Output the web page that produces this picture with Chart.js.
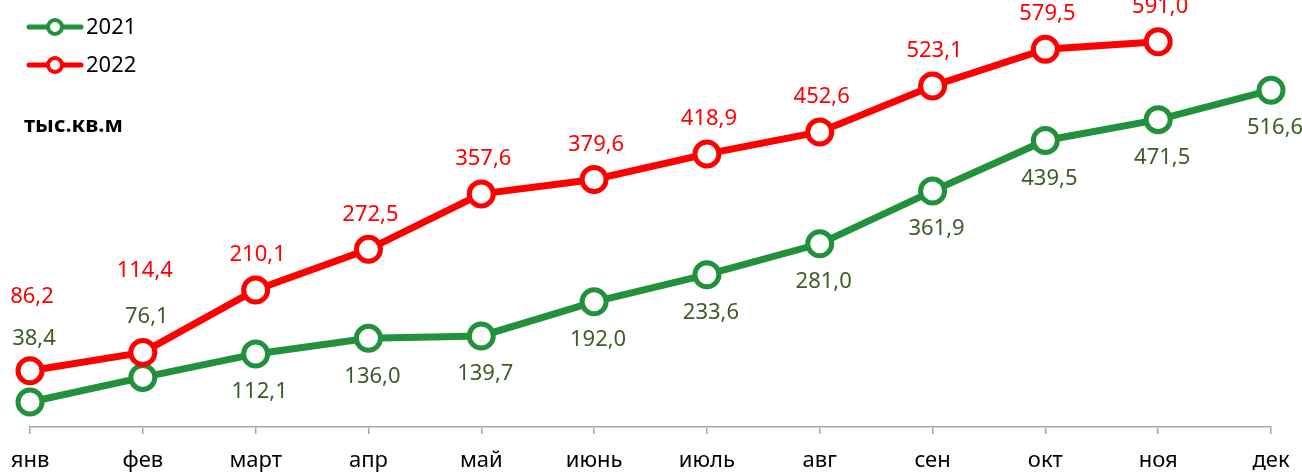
<!DOCTYPE html>
<html>
<head>
<meta charset="utf-8">
<script src="https://cdn.jsdelivr.net/npm/chart.js@4"></script>
<style>
  html, body { margin: 0; padding: 0; background: #fff; }
  #wrap { width: 1302px; height: 473px; position: relative; }
</style>
</head>
<body>
<div id="wrap"><canvas id="salesChart"></canvas></div>
<script>
const months = ["янв", "фев", "март", "апр", "май", "июнь", "июль", "авг", "сен", "окт", "ноя", "дек"];
const values2021 = [38.4, 76.1, 112.1, 136.0, 139.7, 192.0, 233.6, 281.0, 361.9, 439.5, 471.5, 516.6];
const values2022 = [86.2, 114.4, 210.1, 272.5, 357.6, 379.6, 418.9, 452.6, 523.1, 579.5, 591.0];
const seriesNames = ["2021", "2022"];
const unitText = "тыс.кв.м";

const FONT = "'Noto Sans', sans-serif";
const fmt = (v) => v.toFixed(1).replace(".", ",");

// value labels next to each point, offsets are per dataset
const valueLabels = {
  id: "valueLabels",
  afterDatasetsDraw(chart) {
    const ctx = chart.ctx;
    ctx.save();
    ctx.font = "22px " + FONT;
    ctx.textAlign = "center";
    ctx.textBaseline = "middle";
    chart.data.datasets.forEach((ds, i) => {
      const meta = chart.getDatasetMeta(i);
      ctx.fillStyle = ds.labelColor;
      meta.data.forEach((pt, j) => {
        const dy = ds.labelDy[j] !== undefined ? ds.labelDy[j] : ds.labelDy[ds.labelDy.length - 1];
        ctx.fillText(fmt(ds.data[j]), pt.x + ds.labelDx, pt.y + dy);
      });
    });
    ctx.restore();
  },
};

// legend drawn as line + ring like the office original, plus the unit caption
const sideLegend = {
  id: "sideLegend",
  afterDraw(chart) {
    const ctx = chart.ctx;
    ctx.save();
    const items = chart.data.datasets.slice().sort((a, b) => a.label.localeCompare(b.label));
    items.forEach((ds, i) => {
      const y = 27 + i * 38;
      ctx.strokeStyle = ds.borderColor;
      ctx.lineCap = "round";
      ctx.lineWidth = 5;
      ctx.beginPath();
      ctx.moveTo(29, y);
      ctx.lineTo(81, y);
      ctx.stroke();
      ctx.beginPath();
      ctx.arc(55, y, 7, 0, Math.PI * 2);
      ctx.fillStyle = "#fff";
      ctx.fill();
      ctx.lineWidth = 4;
      ctx.stroke();
      ctx.fillStyle = "#000";
      ctx.font = "22px " + FONT;
      ctx.textAlign = "left";
      ctx.textBaseline = "middle";
      ctx.fillText(ds.label, 86, y + 1);
    });
    ctx.font = "bold 22px " + FONT;
    ctx.fillStyle = "#000";
    ctx.textAlign = "left";
    ctx.textBaseline = "middle";
    ctx.fillText(unitText, 24, 126);
    ctx.restore();
  },
};

const ctx = document.getElementById("salesChart").getContext("2d");
new Chart(ctx, {
  type: "line",
  data: {
    labels: months,
    datasets: [
      {
        label: seriesNames[0],
        data: values2021,
        borderColor: "#21923b",
        pointBorderColor: "#21923b",
        pointBackgroundColor: "#ffffff",
        borderWidth: 7,
        pointRadius: 12,
        pointHoverRadius: 12,
        pointBorderWidth: 5,
        tension: 0,
        order: 2,
        labelColor: "#3e5c26",
        labelDx: 4,
        labelDy: [-63, -61, 38],
      },
      {
        label: seriesNames[1],
        data: values2022,
        borderColor: "#ff0000",
        pointBorderColor: "#ff0000",
        pointBackgroundColor: "#ffffff",
        borderWidth: 7,
        pointRadius: 12,
        pointHoverRadius: 12,
        pointBorderWidth: 5,
        tension: 0,
        order: 1,
        labelColor: "#ff0000",
        labelDx: 2,
        labelDy: [-74, -82, -35],
      },
    ],
  },
  options: {
    responsive: true,
    maintainAspectRatio: false,
    animation: false,
    layout: { autoPadding: false, padding: { left: 30, right: 31, top: 0, bottom: 0 } },
    plugins: {
      legend: { display: false },
      tooltip: { enabled: false },
    },
    scales: {
      x: {
        offset: false,
        afterFit(scale) {
          scale.height = 46;
          scale.paddingLeft = 0;
          scale.paddingRight = 0;
        },
        grid: {
          drawOnChartArea: false,
          drawTicks: true,
          tickLength: 7,
          color: "#a6a6a6",
          lineWidth: 1.5,
        },
        border: { display: true, color: "#a6a6a6", width: 1.5 },
        ticks: {
          color: "#000",
          padding: 16,
          maxRotation: 0,
          autoSkip: false,
          font: { family: FONT, size: 22, lineHeight: 1 },
        },
      },
      y: {
        display: false,
        min: 0,
        max: 655,
      },
    },
  },
  plugins: [valueLabels, sideLegend],
});
</script>
</body>
</html>
